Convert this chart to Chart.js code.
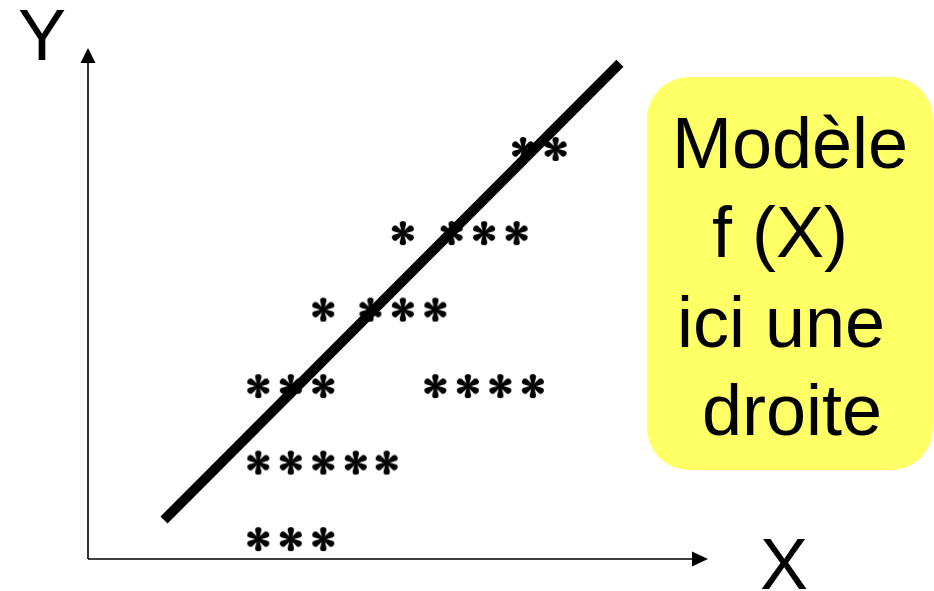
<!DOCTYPE html>
<html lang="fr">
<head>
<meta charset="utf-8">
<title>Modèle f (X) ici une droite</title>
<script src="https://cdn.jsdelivr.net/npm/chart.js@4/dist/chart.umd.min.js"></script>
<style>
  html, body { margin: 0; padding: 0; background: #ffffff; }
  #wrap { position: relative; width: 934px; height: 591px; }
  canvas { display: block; }
</style>
</head>
<body>
<div id="wrap"><canvas id="chart" width="934" height="591"></canvas></div>
<script>
// Observations: one row of asterisks per level of Y, X positions per row
const rowLevels = [0, 1, 2, 3, 4, 5.1];
const row1X = [0, 1, 2];
const row2X = [0, 1, 2, 3, 3.95];
const row3X = [0, 1, 2, 5.45, 6.45, 7.45, 8.45];
const row4X = [2, 3.45, 4.45, 5.45];
const row5X = [4.45, 5.95, 6.95, 7.95];
const row6X = [8.15, 9.15];

// Fitted model: the straight line f(X), given by its two end points
const modelX = [-2.9, 11.13];
const modelY = [0.25, 6.22];

// Axis extents
const xRange = [-5.24, 13.84];
const yRange = [-0.26, 6.42];

// Labels
const axisLabelX = 'X';
const axisLabelY = 'Y';
const modelText = ['Modèle', 'f (X)', 'ici une', 'droite'];

const rows = [row1X, row2X, row3X, row4X, row5X, row6X];
const points = [];
rows.forEach((xs, i) => xs.forEach(x => points.push({ x: x, y: rowLevels[i] })));
const modelPoints = modelX.map((x, i) => ({ x: x, y: modelY[i] }));

// Six-lobed asterisk marker
function makeAsterisk() {
  const c = document.createElement('canvas');
  c.width = 28; c.height = 28;
  const g = c.getContext('2d');
  g.translate(14, 14);
  g.fillStyle = '#000';
  const d = 8.9, r = 3.2, w = 0.9;
  for (let k = 0; k < 6; k++) {
    g.save();
    g.rotate(-Math.PI / 2 + k * Math.PI / 3);
    g.beginPath();
    g.moveTo(0, -w);
    g.lineTo(d, -r);
    g.arc(d, 0, r, -Math.PI / 2, Math.PI / 2);
    g.lineTo(0, w);
    g.closePath();
    g.fill();
    g.restore();
  }
  g.beginPath();
  g.arc(0, 0, 1.7, 0, Math.PI * 2);
  g.fill();
  return c;
}

// Axes with arrow heads, axis letters and the model note
const decorations = {
  id: 'decorations',
  beforeDatasetsDraw(chart) {
    const { ctx, chartArea: a } = chart;
    const x0 = a.left, y0 = a.bottom;
    ctx.save();
    ctx.strokeStyle = '#000';
    ctx.fillStyle = '#000';
    ctx.lineWidth = 1.6;
    ctx.beginPath();
    ctx.moveTo(x0, y0);
    ctx.lineTo(x0, a.top + 12);
    ctx.moveTo(x0, y0);
    ctx.lineTo(a.right - 12, y0);
    ctx.stroke();
    // arrow heads
    ctx.beginPath();
    ctx.moveTo(x0, a.top);
    ctx.lineTo(x0 - 7.5, a.top + 15);
    ctx.lineTo(x0 + 7.5, a.top + 15);
    ctx.closePath();
    ctx.fill();
    ctx.beginPath();
    ctx.moveTo(a.right, y0);
    ctx.lineTo(a.right - 16, y0 - 7.5);
    ctx.lineTo(a.right - 16, y0 + 7.5);
    ctx.closePath();
    ctx.fill();
    ctx.restore();
  },
  afterDraw(chart) {
    const { ctx, chartArea: a } = chart;
    ctx.save();
    ctx.fillStyle = '#000';
    ctx.font = '72px "Liberation Sans", Arial, sans-serif';
    ctx.textBaseline = 'alphabetic';
    ctx.textAlign = 'left';
    ctx.fillText(axisLabelY, a.left - 70, a.top + 12);
    ctx.fillText(axisLabelX, a.right + 52, a.bottom + 30);

    // model note box
    const bx = 647, by = 77, bw = 286, bh = 393, br = 42;
    ctx.fillStyle = '#ffff66';
    ctx.beginPath();
    ctx.roundRect(bx, by, bw, bh, br);
    ctx.fill();
    ctx.fillStyle = '#000';
    const lefts = [672, 712, 677, 702];
    const bases = [168, 257, 347, 435];
    modelText.forEach((t, i) => ctx.fillText(t, lefts[i], bases[i]));
    ctx.restore();
  }
};

new Chart(document.getElementById('chart'), {
  type: 'scatter',
  data: {
    datasets: [
      {
        label: 'f (X)',
        data: modelPoints,
        showLine: true,
        borderColor: '#000',
        borderWidth: 10,
        borderCapStyle: 'butt',
        pointRadius: 0,
        order: 0
      },
      {
        label: 'observations',
        data: points,
        pointStyle: makeAsterisk(),
        pointRadius: 12,
        order: 1
      }
    ]
  },
  options: {
    responsive: false,
    animation: false,
    layout: { padding: { left: 88, right: 226, top: 48, bottom: 32 } },
    scales: {
      x: { type: 'linear', min: xRange[0], max: xRange[1], display: false },
      y: { type: 'linear', min: yRange[0], max: yRange[1], display: false }
    },
    plugins: {
      legend: { display: false },
      tooltip: { enabled: false },
      title: { display: false }
    }
  },
  plugins: [decorations]
});
</script>
</body>
</html>
